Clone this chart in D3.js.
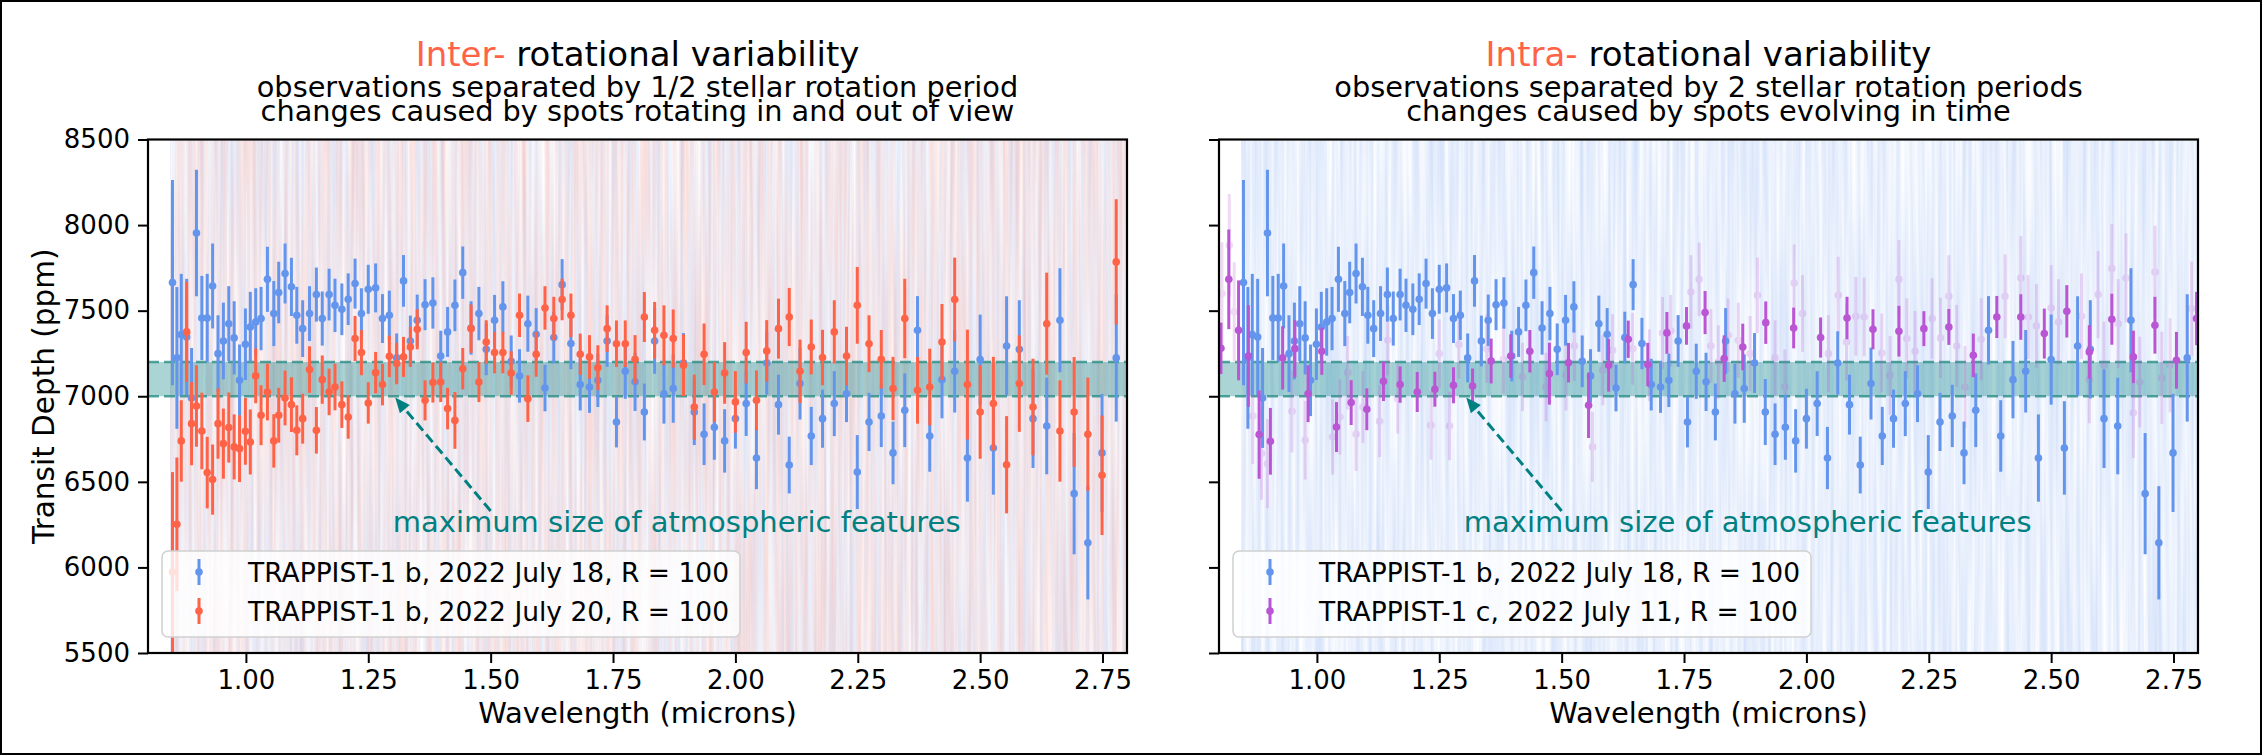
<!DOCTYPE html>
<html><head><meta charset="utf-8">
<script src="https://cdn.jsdelivr.net/npm/d3@7"></script>
<style>html,body{margin:0;padding:0;background:#fff;} svg{display:block;font-family:"DejaVu Sans",sans-serif;}</style>
</head><body><svg id="chart" width="2262" height="755"></svg>
<script>
// ---------------- DATA ----------------
// wavelength grid (microns) of the TRAPPIST-1 b visits, R = 100
const wlB = [0.850,0.859,0.868,0.879,0.889,0.899,0.910,0.921,0.932,0.943,
0.954,0.965,0.976,0.987,0.999,1.009,1.020,1.031,1.044,1.057,
1.067,1.080,1.093,1.104,1.116,1.130,1.144,1.156,1.170,1.182,
1.196,1.209,1.223,1.236,1.250,1.265,1.279,1.293,1.308,1.322,
1.336,1.350,1.366,1.382,1.398,1.412,1.427,1.443,1.460,1.476,
1.491,1.508,1.525,1.542,1.559,1.576,1.593,1.611,1.629,1.646,
1.664,1.683,1.702,1.719,1.738,1.757,1.775,1.795,1.814,
1.835,1.854,1.873,1.894,1.916,1.936,1.957,1.978,2.000,2.022,
2.043,2.064,2.088,2.110,2.132,2.155,2.178,2.202,2.227,2.249,
2.273,2.298,2.322,2.346,2.372,2.397,2.422,2.448,2.474,2.500,
2.527,2.554,2.580,2.608,2.636,2.663,2.692,2.720,2.749,2.778];
// TRAPPIST-1 b, 2022 July 18 (ppm)
const depthJul18 = [7664,7224,7360,7346,6990,7954,7457,7457,7644,7249,
7323,7424,7341,7093,7304,7405,7434,7454,7683,7483,
7606,7717,7639,7473,7395,7483,7594,7454,7594,7531,
7508,7567,7658,7483,7625,7633,7454,7473,7224,7674,
7323,7444,7535,7545,7235,7376,7531,7722,7399,7483,
7274,7444,7522,7204,7119,7424,7362,7048,7343,7652,
7308,7068,7054,7093,7323,6850,7146,7084,6908,
7323,7015,7045,7194,6908,6778,6819,6739,6869,6957,
6639,7194,6951,6598,7074,6768,6869,6957,7015,6557,
6850,6885,6669,6918,7385,6768,7097,7146,6639,7214,
6698,7294,7274,6869,6826,7444,6431,6144,6669,7224];
const errJul18 = [600,414,355,340,292,370,246,258,248,224,
224,219,214,209,209,205,197,185,190,190,
180,175,170,166,166,160,158,158,151,156,
151,151,146,148,143,143,143,144,143,151,
148,150,149,150,148,146,151,153,156,156,
151,148,150,151,156,164,153,136,151,149,
150,151,151,156,151,149,161,170,166,
192,175,200,175,193,180,190,185,175,189,
182,185,175,166,210,170,170,190,166,216,
170,182,183,215,200,209,226,241,255,263,
273,290,287,288,282,304,354,331,345,372];
// TRAPPIST-1 b, 2022 July 20 (ppm)
const depthJul20 = [5973,6252,6739,7376,6840,6943,6797,6554,6513,6840,
6723,6817,6704,6694,6795,6733,7119,6889,7025,6739,
6889,6990,6951,6801,6869,7156,6801,7097,7025,7054,
6951,6879,7337,7255,6961,7138,7068,7233,7191,7230,
7288,7391,6976,7080,7083,6928,6859,7161,7395,7083,
7317,7255,7255,7136,7473,6986,7245,7516,7454,7565,
7473,7245,7230,7167,7395,7307,7307,7216,7463,
7385,7356,7337,7181,6937,7245,7025,7136,6967,7255,
6976,7265,7395,7463,7146,7288,7226,7376,7235,7531,
7307,7216,7045,7454,7035,7054,7317,7565,7068,6908,
6957,6600,7074,6937,7424,6797,6908,6778,6538,7785];
const errJul20 = [584,390,238,292,243,238,224,209,205,205,
205,205,190,195,195,190,160,175,166,156,
160,160,160,146,146,136,136,141,136,136,
136,127,132,132,121,121,121,121,121,117,
117,117,117,117,117,121,166,121,141,117,
127,121,121,127,127,136,131,127,127,121,
127,121,127,131,136,136,136,141,146,
166,175,170,180,190,180,175,180,180,180,
175,180,175,170,185,160,162,185,171,224,
166,171,185,232,195,224,222,245,321,273,
273,284,282,282,298,296,321,331,349,366];
// TRAPPIST-1 c, 2022 July 11 (highlighted bins)
const wlC = [0.804,0.820,0.840,0.860,0.882,0.905,0.930,0.955,0.982,1.010,
1.040,1.070,1.102,1.136,1.170,1.205,1.241,1.279,1.318,1.356,
1.396,1.435,1.475,1.514,1.555,1.596,1.636,1.676,1.715,1.755,
1.793,1.832,1.870,1.917,1.974,2.029,2.083,2.136,2.189,2.240,
2.291,2.341,2.389,2.438,2.486,2.532,2.578,2.624,2.668,2.712,
2.756,2.797];
const depthC = [7280,7683,7385,7235,6776,6737,7224,7278,7015,7263,
6820,6963,6924,7087,7068,7025,7041,7064,7060,7206,
7235,7263,7132,7196,6947,7181,7333,7185,7370,7411,
7489,7220,7288,7430,7399,7343,7457,7391,7380,7395,
7405,7239,7463,7463,7366,7496,7259,7450,7230,7415,
7210,7454];
const errC = [150,291,292,297,258,195,185,166,166,138,
146,131,122,115,106,117,102,105,102,131,
127,124,181,115,191,154,109,127,122,110,
126,136,136,124,119,117,124,117,148,102,
105,127,123,133,146,153,156,149,153,166,
166,156];
// TRAPPIST-1 c, remaining bins (drawn faint)
const wlCfaint = [0.806,0.821,0.831,0.869,0.887,0.899,0.949,0.976,1.032,1.047,
1.063,1.080,1.094,1.128,1.145,1.165,1.233,1.250,1.271,1.290,
1.347,1.381,1.420,1.468,1.509,1.526,1.563,1.584,1.604,1.645,
1.679,1.706,1.723,1.764,1.781,1.805,1.820,1.840,1.861,1.885,
1.900,1.936,1.956,1.975,1.992,2.045,2.065,2.082,2.101,2.118,
2.154,2.171,2.189,2.205,2.222,2.257,2.274,2.291,2.307,2.324,
2.357,2.406,2.438,2.453,2.470,2.500,2.515,2.562,2.578,2.596,
2.608,2.624,2.637,2.653,2.668,2.681,2.712,2.726,2.743,2.787];
const depthCfaint = [7600,7882,7493,6885,6665,6606,6912,6743,6762,6879,
7138,6778,6937,6854,7327,6986,6830,7249,6826,7302,
7278,7216,7113,7054,7122,7294,6704,7152,7269,7278,
7181,7370,7382,7609,7683,7294,7200,7356,7327,7249,
7590,7224,7054,7662,7483,7249,7590,7317,7467,7463,
7253,7122,7683,7337,7263,7454,7341,7584,7294,7054,
7333,7584,7691,7463,7411,7516,7434,7467,7097,7594,
7181,7746,7424,7691,6904,7083,7726,7107,7181,7512];
const errCfaint = [300,300,290,280,270,260,240,230,220,220,
215,215,210,210,205,205,200,200,200,200,
200,200,200,200,205,205,205,205,210,210,
210,210,210,215,215,215,215,215,220,220,
220,220,220,225,225,225,225,225,230,230,
230,230,230,235,235,235,235,240,240,240,
240,245,245,245,245,250,250,250,255,255,
255,260,260,260,265,265,270,270,275,275];

const xDomain = [0.8, 2.8];
const yDomain = [5500, 8500];
const xTicks = [1.00, 1.25, 1.50, 1.75, 2.00, 2.25, 2.50, 2.75];
const yTicks = [5500, 6000, 6500, 7000, 7500, 8000, 8500];
const band = [7000, 7200];
const nativeRange = [0.845, 2.8];
const labelJul18 = "TRAPPIST-1 b, 2022 July 18, R = 100";
const labelJul20 = "TRAPPIST-1 b, 2022 July 20, R = 100";
const labelC = "TRAPPIST-1 c, 2022 July 11, R = 100";
const annText = "maximum size of atmospheric features";
const annTextPos = [1.30, 6265];
const annTail = [1.50, 6330];
const annTip = [1.305, 6992];

// ---------------- STYLE / LAYOUT ----------------
const W = 2262, H = 755;
const TOP = 139.5, BOTTOM = 653;
const BLUE = "#6495ED", RED = "#FF6347", PURPLE = "#BA55D3", TEAL = "#008080";

const svg = d3.select("#chart");
svg.append("rect").attr("width", W).attr("height", H).attr("fill", "#fff");
svg.append("rect").attr("x", 1).attr("y", 1).attr("width", W - 2).attr("height", H - 2)
  .attr("fill", "none").attr("stroke", "#000").attr("stroke-width", 2);

const defs = svg.append("defs");
function noiseFilter(id, layers, seed) {
  const f = defs.append("filter").attr("id", id).attr("x", 0).attr("y", 0)
    .attr("width", 1).attr("height", 1).attr("color-interpolation-filters", "sRGB");
  f.append("feTurbulence").attr("type", "fractalNoise").attr("baseFrequency", "0.26 0.004")
    .attr("numOctaves", 2).attr("seed", seed).attr("result", "t");
  const merge = [];
  layers.forEach((L, i) => {
    const c = d3.rgb(L.color);
    const ch = [0, 0, 0, 0];
    ch[L.channel] = L.k;
    f.append("feColorMatrix").attr("in", "t").attr("type", "matrix")
      .attr("values", `0 0 0 0 ${c.r/255} 0 0 0 0 ${c.g/255} 0 0 0 0 ${c.b/255} ${ch.join(" ")} ${L.b}`)
      .attr("result", "l" + i);
    merge.push("l" + i);
  });
  const m = f.append("feMerge");
  merge.forEach(n => m.append("feMergeNode").attr("in", n));
}
noiseFilter("bgL", [{color: BLUE, channel: 0, k: 0.36, b: -0.07}, {color: RED, channel: 1, k: 0.36, b: -0.085}], 7);
noiseFilter("bgR", [{color: BLUE, channel: 0, k: 0.42, b: -0.07}], 11);

const panels = [
  {left: 148, right: 1127, bg: "bgL", yLabels: true,
   title: ["Inter-", " rotational variability"],
   sub: ["observations separated by 1/2 stellar rotation period", "changes caused by spots rotating in and out of view"],
   faint: null,
   series: [{wl: wlB, d: depthJul18, e: errJul18, c: BLUE, label: labelJul18},
            {wl: wlB, d: depthJul20, e: errJul20, c: RED, label: labelJul20}]},
  {left: 1219, right: 2198, bg: "bgR", yLabels: false,
   title: ["Intra-", " rotational variability"],
   sub: ["observations separated by 2 stellar rotation periods", "changes caused by spots evolving in time"],
   faint: {wl: wlCfaint, d: depthCfaint, e: errCfaint, c: PURPLE},
   series: [{wl: wlB, d: depthJul18, e: errJul18, c: BLUE, label: labelJul18},
            {wl: wlC, d: depthC, e: errC, c: PURPLE, label: labelC}]}
];

function drawErr(g, s, x, y, opacity, lw, r) {
  const pts = s.wl.map((w, i) => ({w, d: s.d[i], e: s.e[i]}));
  const gg = g.append("g").attr("opacity", opacity);
  gg.selectAll("line").data(pts).join("line")
    .attr("x1", p => x(p.w)).attr("x2", p => x(p.w))
    .attr("y1", p => y(p.d - p.e)).attr("y2", p => y(p.d + p.e))
    .attr("stroke", s.c).attr("stroke-width", lw);
  gg.selectAll("circle").data(pts).join("circle")
    .attr("cx", p => x(p.w)).attr("cy", p => y(p.d)).attr("r", r).attr("fill", s.c);
}

panels.forEach((p, pi) => {
  const x = d3.scaleLinear().domain(xDomain).range([p.left, p.right]);
  const y = d3.scaleLinear().domain(yDomain).range([BOTTOM, TOP]);
  const cid = "clip" + pi;
  defs.append("clipPath").attr("id", cid).append("rect")
    .attr("x", p.left).attr("y", TOP).attr("width", p.right - p.left).attr("height", BOTTOM - TOP);
  const g = svg.append("g").attr("clip-path", `url(#${cid})`);

  // dense native-resolution spectra (faint vertical streaks)
  g.append("rect").attr("x", x(nativeRange[0])).attr("y", TOP)
    .attr("width", x(nativeRange[1]) - x(nativeRange[0])).attr("height", BOTTOM - TOP)
    .attr("fill", "#fff").attr("filter", `url(#${p.bg})`);

  // band of maximum atmospheric feature size
  g.append("rect").attr("x", p.left).attr("width", p.right - p.left)
    .attr("y", y(band[1])).attr("height", y(band[0]) - y(band[1]))
    .attr("fill", TEAL).attr("opacity", 0.33);
  band.forEach(b => g.append("line").attr("x1", p.left).attr("x2", p.right)
    .attr("y1", y(b)).attr("y2", y(b)).attr("stroke", "#2a8f86").attr("stroke-width", 2.5)
    .attr("stroke-dasharray", "11,5").attr("opacity", 0.8));

  if (p.faint) drawErr(g, p.faint, x, y, 0.22, 3, 3.8);
  p.series.forEach(s => drawErr(g, s, x, y, 1, 3, 3.8));

  // annotation
  const tx = x(annTextPos[0]), ty = y(annTextPos[1]);
  svg.append("text").attr("x", tx).attr("y", ty).attr("dominant-baseline", "central")
    .attr("font-size", 29).attr("fill", TEAL).text(annText);
  const ax0 = x(annTail[0]), ay0 = y(annTail[1]), ax1 = x(annTip[0]), ay1 = y(annTip[1]);
  const L = Math.hypot(ax1 - ax0, ay1 - ay0), ux = (ax1 - ax0) / L, uy = (ay1 - ay0) / L;
  const hl = 15, hw = 6.5;
  const bx = ax1 - ux * hl, by = ay1 - uy * hl;
  svg.append("line").attr("x1", ax0).attr("y1", ay0).attr("x2", bx).attr("y2", by)
    .attr("stroke", TEAL).attr("stroke-width", 3).attr("stroke-dasharray", "10,5");
  svg.append("path").attr("d", `M${ax1},${ay1}L${bx - uy * hw},${by + ux * hw}L${bx + uy * hw},${by - ux * hw}Z`)
    .attr("fill", TEAL);

  // frame
  svg.append("rect").attr("x", p.left).attr("y", TOP).attr("width", p.right - p.left)
    .attr("height", BOTTOM - TOP).attr("fill", "none").attr("stroke", "#000").attr("stroke-width", 2.2);

  // axes
  const xa = svg.append("g").attr("transform", `translate(0,${BOTTOM})`)
    .call(d3.axisBottom(x).tickValues(xTicks).tickFormat(d3.format(".2f")).tickSize(10).tickPadding(8));
  const ya = svg.append("g").attr("transform", `translate(${p.left},0)`)
    .call(d3.axisLeft(y).tickValues(yTicks).tickFormat(p.yLabels ? d3.format("d") : () => "").tickSize(10).tickPadding(8));
  [xa, ya].forEach(a => {
    a.select(".domain").remove();
    a.selectAll(".tick line").attr("stroke", "#000").attr("stroke-width", 2);
    a.selectAll(".tick text").attr("fill", "#000").attr("font-size", 26).attr("font-family", "DejaVu Sans");
  });
  svg.append("text").attr("x", (p.left + p.right) / 2).attr("y", 713).attr("text-anchor", "middle")
    .attr("dominant-baseline", "central").attr("font-size", 29).text("Wavelength (microns)");
  if (p.yLabels) {
    svg.append("text").attr("transform", `translate(44,${(TOP + BOTTOM) / 2}) rotate(-90)`)
      .attr("text-anchor", "middle").attr("dominant-baseline", "central").attr("font-size", 29.5)
      .text("Transit Depth (ppm)");
  }

  // title block (one multi-line text, as a matplotlib title)
  const cx = (p.left + p.right) / 2;
  const t = svg.append("text").attr("text-anchor", "middle");
  t.append("tspan").attr("x", cx).attr("y", 66).attr("font-size", 34).attr("fill", RED).text(p.title[0]);
  t.append("tspan").attr("font-size", 34).attr("fill", "#000").text(p.title[1]);
  p.sub.forEach((s, i) => t.append("tspan").attr("x", cx).attr("y", 97 + i * 24)
    .attr("font-size", 28.8).attr("fill", "#000").text(s));

  // legend
  const lg = svg.append("g").attr("transform", `translate(${p.left + 14},551)`);
  lg.append("rect").attr("width", 578).attr("height", 86).attr("rx", 6)
    .attr("fill", "#fff").attr("fill-opacity", 0.8).attr("stroke", "#d0d0d0").attr("stroke-width", 1.5);
  p.series.forEach((s, i) => {
    const ry = 21 + i * 39;
    lg.append("line").attr("x1", 37).attr("x2", 37).attr("y1", ry - 13).attr("y2", ry + 13)
      .attr("stroke", s.c).attr("stroke-width", 3);
    lg.append("circle").attr("cx", 37).attr("cy", ry).attr("r", 3.8).attr("fill", s.c);
    lg.append("text").attr("x", 86).attr("y", ry).attr("dominant-baseline", "central")
      .attr("font-size", 26.5).text(s.label);
  });
});
</script></body></html>
